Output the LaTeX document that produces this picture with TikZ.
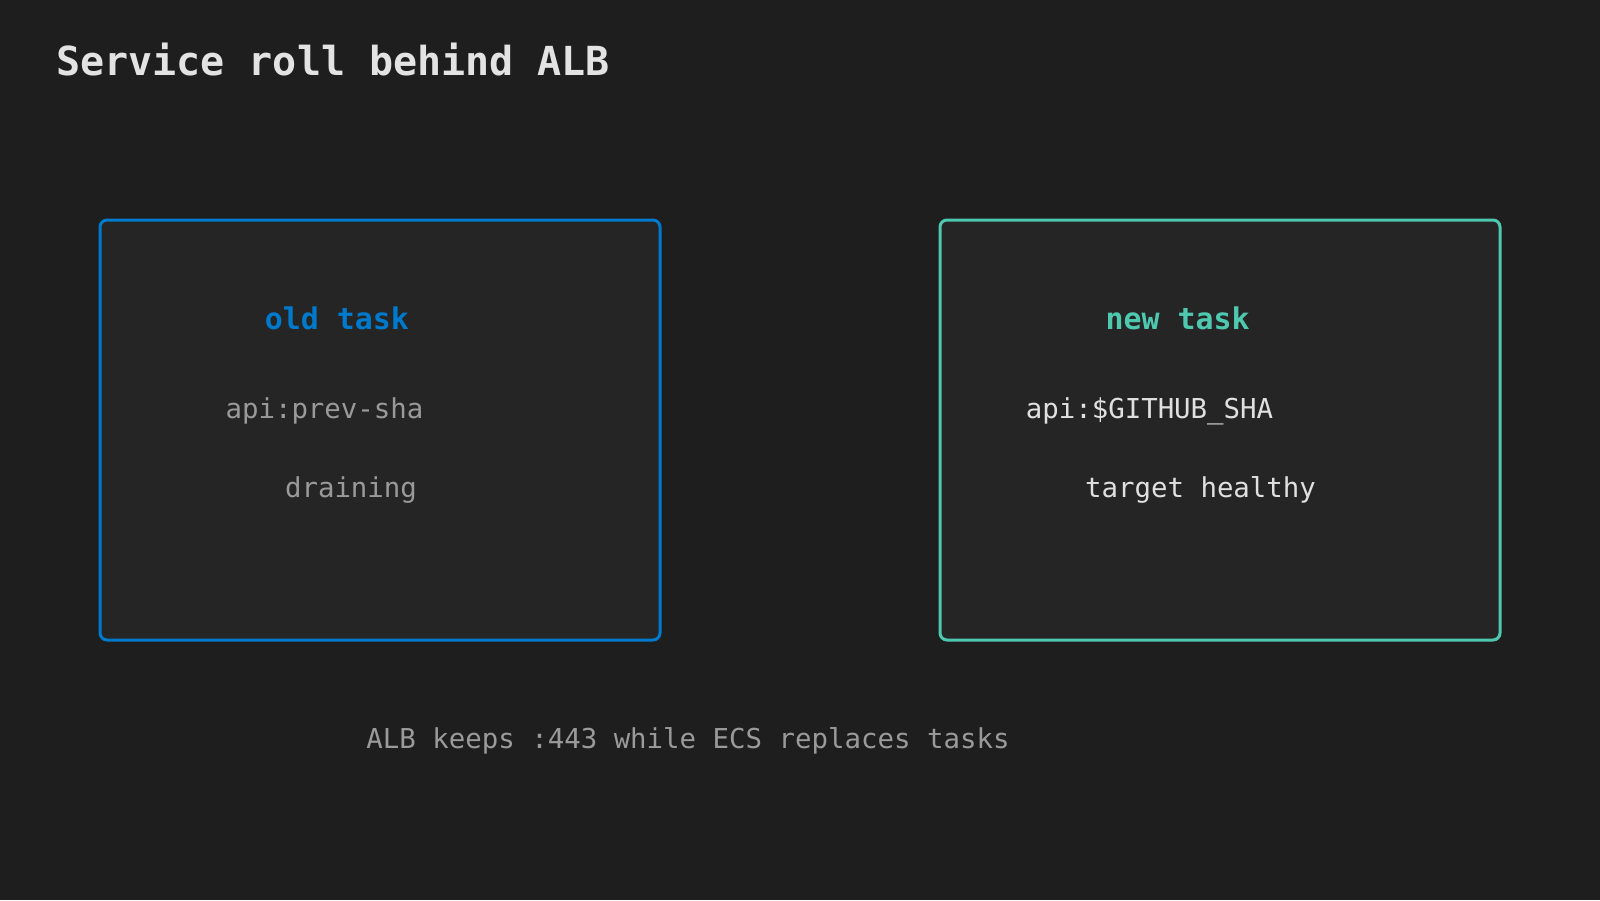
\documentclass[tikz,border=0pt]{standalone}
\usepackage{fontspec}
\setmonofont{DejaVu Sans Mono}
\definecolor{bgdark}{HTML}{1E1E1E}
\definecolor{boxfill}{HTML}{252526}
\definecolor{oldblue}{HTML}{007ACC}
\definecolor{newteal}{HTML}{4EC9B0}
\definecolor{titlegray}{HTML}{E3E3E3}
\definecolor{dimgray}{HTML}{9A9A9A}
\definecolor{lightgray}{HTML}{E0E0E0}
\tikzset{
    taskbox/.style={draw=#1,fill=boxfill,line width=3pt,rounded corners=7pt,minimum width=560pt,minimum height=420pt,inner sep=0pt},
    tasktitle/.style={anchor=base,text=#1,font=\ttfamily\bfseries\fontsize{29.9}{34}\selectfont},
    tasktext/.style={anchor=base,text=#1,font=\ttfamily\fontsize{27.4}{32}\selectfont}
}
\begin{document}
\begin{tikzpicture}[x=1pt,y=-1pt]
        %BACKGROUND
        \fill[bgdark] (0,0) rectangle (1600,900);
        \useasboundingbox (0,0) rectangle (1600,900);
        %TITLE
        \node[anchor=base west,inner sep=0pt,text=titlegray,font=\ttfamily\bfseries\fontsize{40}{46}\selectfont] (title) at (56,75.5) {Service roll behind ALB};

        %OLD TASK
        \node[taskbox=oldblue] (oldbox) at (380,430) {};
        \node[tasktitle=oldblue] (oldname) at (337,329.5) {old task};
        \node[tasktext=dimgray] (oldimage) at (324.5,418) {api:prev-sha};
        \node[tasktext=dimgray] (oldstate) at (351,497.5) {draining};

        %NEW TASK
        \node[taskbox=newteal] (newbox) at (1220,430) {};
        \node[tasktitle=newteal] (newname) at (1177.5,329.5) {new task};
        \node[tasktext=lightgray] (newimage) at (1149.5,418) {api:\$GITHUB\_SHA};
        \node[tasktext=lightgray] (newstate) at (1200.5,497.5) {target healthy};

        %FOOTER
        \node[tasktext=dimgray] (footer) at (688,748) {ALB keeps :443 while ECS replaces tasks};
    \end{tikzpicture}
\end{document}
